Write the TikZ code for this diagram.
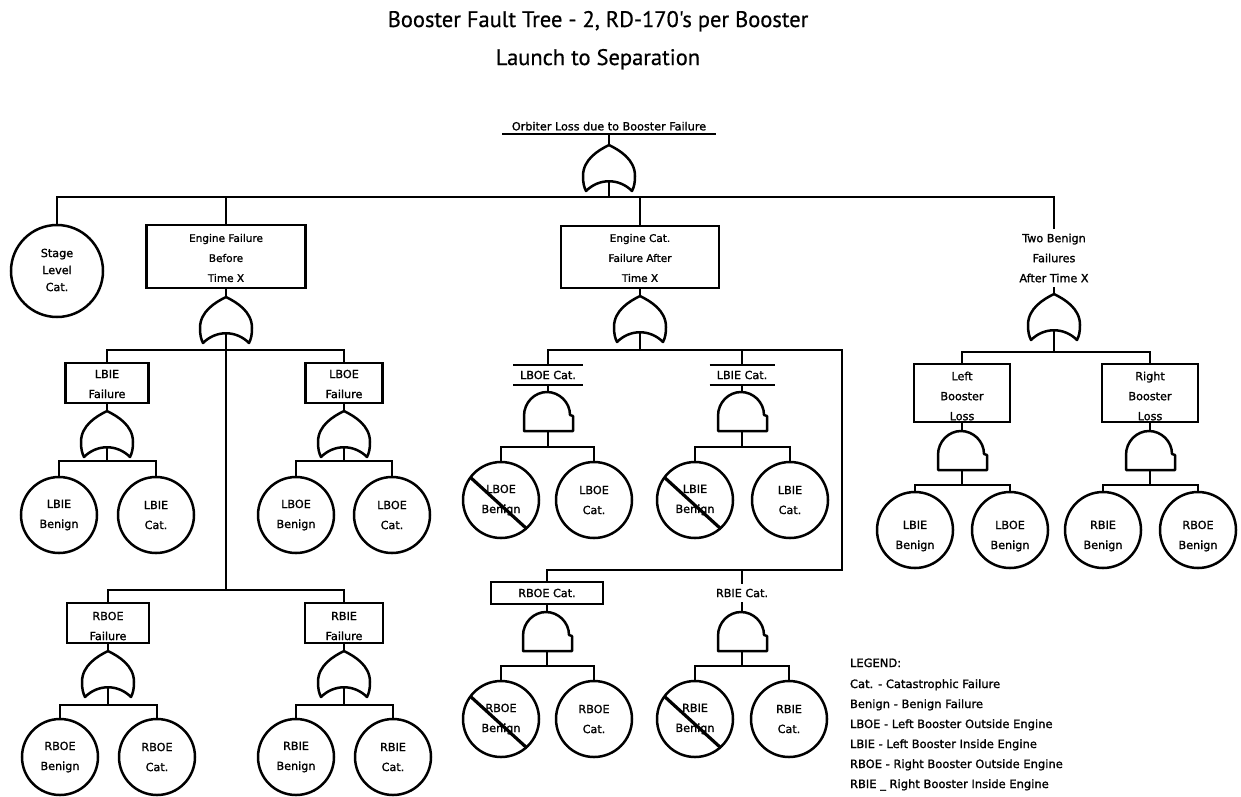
\documentclass[tikz,border=0pt]{standalone}
\usepackage{fontspec}
\setmainfont[FakeBold=1.3]{DejaVu Sans}
\newfontfamily\headfont[FakeBold=0.6]{PT Sans}
\usetikzlibrary{calc}

% basic event: circle with its label set a little apart
\newcommand{\basicev}[5]{%
  \node[basic] (#1) at (#2,#3) {};
  \node[lbl] (#1-t) at ($(#1.center)+(0,#5)$) {#4};
}
% basic event that has been ruled out (struck through)
\newcommand{\strike}[1]{%
  \draw[slash] ($(#1.center)+(-31,-23)$) -- ($(#1.center)+(26,29)$);
}
% intermediate event box
\newcommand{\boxev}[8]{%
  \node[evbox, minimum width=#4pt, minimum height=#5pt] (#1) at (#2,#3) {};
  \node[#8] (#1-t) at ($(#1.center)+(0,#7)$) {#6};
}

\begin{document}
\begin{tikzpicture}[x=1pt,y=-1pt,
  every node/.style={inner sep=0pt, outer sep=0pt},
  wire/.style={line width=2.4pt},
  evbox/.style={draw, rectangle, line width=2.8pt},
  basic/.style={draw, circle, line width=2.5pt, minimum size=76pt},
  lbl/.style={font=\fontsize{11.2}{20}\selectfont, align=center},
  boxlbl/.style={font=\fontsize{10.5}{20}\selectfont, align=center},
  leg/.style={font=\fontsize{11.5}{13}\selectfont, anchor=base west},
  titlef/.style={font=\headfont\fontsize{22.5}{26}\selectfont, anchor=base},
  gate/.style={line width=2.5pt, line join=round},
  slash/.style={line width=3.2pt},
  orgate/.pic={
    \draw[gate] (0,0) .. controls (-10,5) and (-26,14) .. (-26,31)
      .. controls (-26,38) and (-25,42) .. (-23,46)
      .. controls (-10,33) and (10,33) .. (23,46)
      .. controls (25,42) and (26,38) .. (26,31)
      .. controls (26,14) and (10,5) .. cycle;
    \coordinate (-in) at (0,0);
    \coordinate (-out) at (0,37);
  },
  andgate/.pic={
    \draw[gate] (-24,39) -- (-24,24) .. controls (-24,10) and (-13,0) .. (-1,0)
      .. controls (11,0) and (22,10) .. (22,23) -- (25,24) -- (25,39) -- cycle;
    \coordinate (-in) at (0,0);
    \coordinate (-out) at (0,39);
  }
]
\useasboundingbox (0,0) rectangle (1241,796);
\fill[white] (0,0) rectangle (1241,796);

% headings
\node[titlef] (title) at (598,27) {Booster Fault Tree - 2, RD-170's per Booster};
\node[titlef] (subtitle) at (598,65) {Launch to Separation};

% top event
\node[lbl, anchor=south, minimum width=214pt, inner ysep=3.5pt] (top) at (609,134) {Orbiter Loss due to Booster Failure};
\draw[wire] (top.south west) -- (top.south east);
\pic (g0) at (609,145) {orgate};
\draw[wire] (top.south) -- (g0-in);
\coordinate (b0) at (609,197);
\draw[wire] (g0-out) -- (b0);

% first level
\node[basic, minimum size=92pt] (stage) at (57,271) {};
\node[font=\fontsize{11.2}{17}\selectfont, align=center] (stage-t) at (57,270) {Stage\\Level\\Cat.};
\boxev{engA}{226}{256.5}{159}{63}{Engine Failure\\Before\\Time X}{1.5}{boxlbl}
\boxev{engC}{640}{257}{158}{62}{Engine Cat.\\Failure After\\Time X}{1}{boxlbl}
\node[lbl, inner ysep=5pt] (two) at (1054,258) {Two Benign\\Failures\\After Time X};
\draw[wire] (stage.north) |- (b0) -| (two.north);
\draw[wire] (b0) -| (engA.north);
\draw[wire] (b0) -| (engC.north);

% engine failure before time X
\pic (g1) at (226,297) {orgate};
\draw[wire] (engA.south) -- (g1-in);
\coordinate (b1) at (226,350);
\coordinate (b1r) at (226,590);
\draw[wire] (g1-out) -- (b1r);
\boxev{lbie}{107}{383}{83}{40}{LBIE\\Failure}{1}{lbl}
\boxev{lboe}{344}{383}{77}{40}{LBOE\\Failure}{1}{lbl}
\boxev{rboe}{108}{623}{82}{40}{RBOE\\Failure}{3}{lbl}
\boxev{rbie}{344}{623}{78}{40}{RBIE\\Failure}{3}{lbl}
\draw[wire] (lbie.north) |- (b1) -| (lboe.north);
\draw[wire] (rboe.north) |- (b1r) -| (rbie.north);

\pic (g2) at (107,411) {orgate};
\draw[wire] (lbie.south) -- (g2-in);
\coordinate (b2) at (107,461);
\draw[wire] (g2-out) -- (b2);
\basicev{c1}{59}{515}{LBIE\\Benign}{0}
\basicev{c2}{156}{515}{LBIE\\Cat.}{0}
\draw[wire] (c1.north) |- (b2) -| (c2.north);

\pic (g3) at (344,411) {orgate};
\draw[wire] (lboe.south) -- (g3-in);
\coordinate (b3) at (344,461);
\draw[wire] (g3-out) -- (b3);
\basicev{c3}{296}{515}{LBOE\\Benign}{0}
\basicev{c4}{392}{515}{LBOE\\Cat.}{0}
\draw[wire] (c3.north) |- (b3) -| (c4.north);

\pic (g4) at (108,651) {orgate};
\draw[wire] (rboe.south) -- (g4-in);
\coordinate (b4) at (108,705);
\draw[wire] (g4-out) -- (b4);
\basicev{c5}{60}{757}{RBOE\\Benign}{0}
\basicev{c6}{157}{757}{RBOE\\Cat.}{0}
\draw[wire] (c5.north) |- (b4) -| (c6.north);

\pic (g5) at (344,651) {orgate};
\draw[wire] (rbie.south) -- (g5-in);
\coordinate (b5) at (344,705);
\draw[wire] (g5-out) -- (b5);
\basicev{c7}{296}{757}{RBIE\\Benign}{0}
\basicev{c8}{393}{757}{RBIE\\Cat.}{0}
\draw[wire] (c7.north) |- (b5) -| (c8.north);

% engine catastrophic failure after time X
\pic (g6) at (640,296) {orgate};
\draw[wire] (engC.south) -- (g6-in);
\coordinate (b6) at (640,350);
\coordinate (b6r) at (842,350);
\coordinate (b7r) at (842,570);
\draw[wire] (g6-out) -- (b6);
\node[lbl, minimum width=70pt, minimum height=20pt] (lboecat) at (548,375) {LBOE Cat.};
\draw[wire] (lboecat.north west) -- (lboecat.north east);
\draw[wire] (lboecat.south west) -- (lboecat.south east);
\node[lbl, minimum width=65pt, minimum height=20pt] (lbiecat) at (742,375) {LBIE Cat.};
\draw[wire] (lbiecat.north west) -- (lbiecat.north east);
\draw[wire] (lbiecat.south west) -- (lbiecat.south east);
\boxev{rboecat}{547}{593}{112}{22}{RBOE Cat.}{0}{lbl}
\node[lbl, inner ysep=5pt] (rbiecat) at (742,593) {RBIE Cat.};
\draw[wire] (lboecat.north) |- (b6r) -- (b7r) -| (rboecat.north);
\draw[wire] (lbiecat.north) -- (lbiecat.north |- b6r);
\draw[wire] (rbiecat.north) -- (rbiecat.north |- b7r);

\pic (g7) at (548,392) {andgate};
\draw[wire] (lboecat.south) -- (g7-in);
\coordinate (b8) at (548,447);
\draw[wire] (g7-out) -- (b8);
\basicev{c9}{501}{500}{LBOE\\Benign}{0}
\basicev{c10}{594}{500}{LBOE\\Cat.}{0}
\draw[wire] (c9.north) |- (b8) -| (c10.north);
\strike{c9}

\pic (g8) at (742,392) {andgate};
\draw[wire] (lbiecat.south) -- (g8-in);
\coordinate (b9) at (742,447);
\draw[wire] (g8-out) -- (b9);
\basicev{c11}{695}{500}{LBIE\\Benign}{0}
\basicev{c12}{790}{500}{LBIE\\Cat.}{0}
\draw[wire] (c11.north) |- (b9) -| (c12.north);
\strike{c11}

\pic (g9) at (547,612) {andgate};
\draw[wire] (rboecat.south) -- (g9-in);
\coordinate (b10) at (547,666);
\draw[wire] (g9-out) -- (b10);
\basicev{c13}{501}{719}{RBOE\\Benign}{0}
\basicev{c14}{594}{719}{RBOE\\Cat.}{0}
\draw[wire] (c13.north) |- (b10) -| (c14.north);
\strike{c13}

\pic (g10) at (742,612) {andgate};
\draw[wire] (rbiecat.south) -- (g10-in);
\coordinate (b11) at (742,666);
\draw[wire] (g10-out) -- (b11);
\basicev{c15}{695}{719}{RBIE\\Benign}{0}
\basicev{c16}{789}{719}{RBIE\\Cat.}{0}
\draw[wire] (c15.north) |- (b11) -| (c16.north);
\strike{c15}

% two benign failures after time X
\pic (g11) at (1054,294) {orgate};
\draw[wire] (two.south) -- (g11-in);
\coordinate (b12) at (1054,352);
\draw[wire] (g11-out) -- (b12);
\boxev{lbl}{962}{393}{96}{58}{Left\\Booster\\Loss}{3}{lbl}
\boxev{rbl}{1150}{393}{96}{58}{Right\\Booster\\Loss}{3}{lbl}
\draw[wire] (lbl.north) |- (b12) -| (rbl.north);

\pic (g12) at (962,431) {andgate};
\draw[wire] (lbl.south) -- (g12-in);
\coordinate (b13) at (962,485);
\draw[wire] (g12-out) -- (b13);
\basicev{c17}{915}{530}{LBIE\\Benign}{6}
\basicev{c18}{1010}{530}{LBOE\\Benign}{6}
\draw[wire] (c17.north) |- (b13) -| (c18.north);

\pic (g13) at (1150,431) {andgate};
\draw[wire] (rbl.south) -- (g13-in);
\coordinate (b14) at (1150,485);
\draw[wire] (g13-out) -- (b14);
\basicev{c19}{1103}{530}{RBIE\\Benign}{6}
\basicev{c20}{1198}{530}{RBOE\\Benign}{6}
\draw[wire] (c19.north) |- (b14) -| (c20.north);

% legend
\node[leg] (leg0) at (850,667) {LEGEND:};
\node[leg] (leg1) at (850,688) {Cat. - Catastrophic Failure};
\node[leg] (leg2) at (850,708) {Benign - Benign Failure};
\node[leg] (leg3) at (850,728) {LBOE - Left Booster Outside Engine};
\node[leg] (leg4) at (850,748) {LBIE - Left Booster Inside Engine};
\node[leg] (leg5) at (850,768) {RBOE - Right Booster Outside Engine};
\node[leg] (leg6) at (850,788) {RBIE \_ Right Booster Inside Engine};
\end{tikzpicture}
\end{document}
